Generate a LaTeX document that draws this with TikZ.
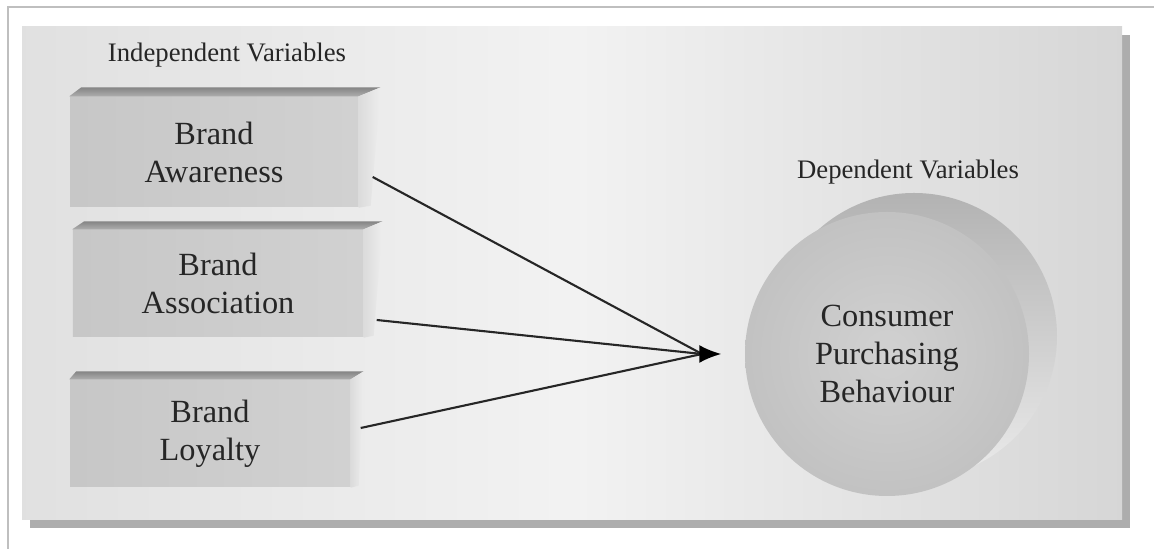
\documentclass[tikz,border=0pt]{standalone}
\usepackage{fontspec}
\setmainfont{Liberation Serif}
\usepackage{tikz}
\usetikzlibrary{arrows.meta,positioning}

\begin{document}
\begin{tikzpicture}[
    font=\fontsize{9.2}{10.8}\selectfont,
    box/.style={rectangle, inner sep=0pt, minimum height=1.07cm, align=center, text=black!85,
                left color=black!22, right color=black!18},
    topface/.style={top color=black!48, bottom color=black!32},
    sideface/.style={left color=black!14, right color=black!7},
    head/.style={font=\fontsize{7.6}{9}\selectfont, text=black!85},
    link/.style={line width=0.6pt, black!85},
    arr/.style={-{Latex[length=2.2mm,width=1.8mm]}, line width=0.6pt, black}
]
\useasboundingbox (0,0) rectangle (11.54,5.49);

% ---- Frame and panel ----
\draw[black!25, line width=0.4pt] (0.08,0) -- (0.08,5.42) -- (11.54,5.42);
\fill[black!32] (0.30,0.21) rectangle (11.30,5.14);
\shade[left color=black!12, right color=black!16, middle color=black!5] (0.22,0.29) rectangle (11.22,5.22);

% ---- Independent variables ----
\node[head] (indep) at (2.27,4.94) {Independent Variables};

\node[box, minimum width=2.88cm, minimum height=1.10cm] (aware) at (2.14,3.97) {Brand\\Awareness};
\shade[topface] (aware.north west) -- ++(0.12,0.09) -- ([shift={(0.22,0.09)}]aware.north east) -- (aware.north east) -- cycle;
\shade[sideface] (aware.north east) -- ++(0.22,0.09) -- ([shift={(0.12,0.02)}]aware.south east) -- (aware.south east) -- cycle;

\node[box, minimum width=2.90cm] (assoc) at (2.18,2.655) {Brand\\Association};
\shade[topface] (assoc.north west) -- ++(0.12,0.08) -- ([shift={(0.19,0.08)}]assoc.north east) -- (assoc.north east) -- cycle;
\shade[sideface] (assoc.north east) -- ++(0.19,0.08) -- ([shift={(0.10,0.02)}]assoc.south east) -- (assoc.south east) -- cycle;

\node[box, minimum width=2.80cm] (loyal) at (2.10,1.155) {Brand\\Loyalty};
\shade[topface] (loyal.north west) -- ++(0.07,0.08) -- ([shift={(0.13,0.08)}]loyal.north east) -- (loyal.north east) -- cycle;
\shade[sideface] (loyal.north east) -- ++(0.13,0.08) -- ([shift={(0.08,0.02)}]loyal.south east) -- (loyal.south east) -- cycle;

% ---- Dependent variable ----
\node[head] (dep) at (9.08,3.77) {Dependent Variables};
\shade[top color=black!30, bottom color=black!8] (9.14,2.13) circle (1.43);
\node[circle, minimum size=2.84cm, inner sep=0pt, align=center, text=black!85,
      inner color=black!18, outer color=black!24] (cpb) at (8.87,1.95) {Consumer\\Purchasing\\Behaviour};

% ---- Links ----
\coordinate (join) at (7.02,1.95);
\draw[link] (aware.east) ++(0.14,-0.25) -- (join);
\draw[link] (assoc.east) ++(0.13,-0.365) -- (join);
\draw[link] (loyal.east) ++(0.10,0.055) -- (join);
\draw[arr, shorten >=0.23cm] (join) -- (cpb.west);

\end{tikzpicture}
\end{document}
